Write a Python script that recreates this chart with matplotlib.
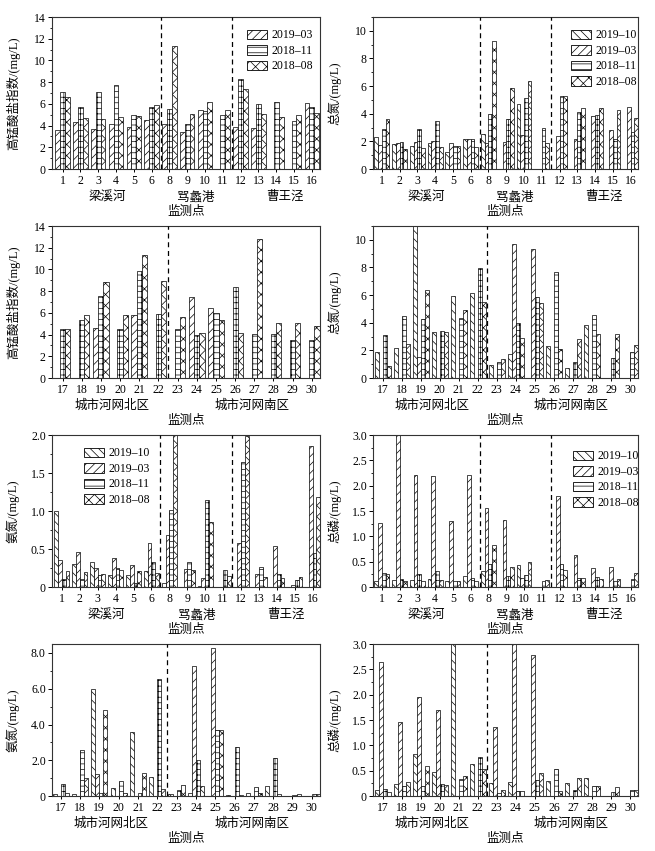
import numpy as np
import matplotlib
matplotlib.use('Agg')
import matplotlib.pyplot as plt
from matplotlib.patches import Patch
from matplotlib.ticker import MultipleLocator, FuncFormatter
from matplotlib.transforms import blended_transform_factory

plt.rcParams['font.family'] = ['Liberation Serif', 'Noto Sans CJK SC']
plt.rcParams['font.size'] = 8
plt.rcParams['hatch.linewidth'] = 0.5
plt.rcParams['axes.unicode_minus'] = False

nan = np.nan

# 监测点
sites_top = ['1', '2', '3', '4', '5', '6', '8', '9', '10', '11', '12', '13', '14', '15', '16']
sites_bot = [str(i) for i in range(17, 31)]
groups_top = ['梁溪河', '骂蠡港', '曹王泾']
groups_top_x = [2.5, 7.5, 12.5]
groups_bot = ['城市河网北区', '城市河网南区']
groups_bot_x = [2.6, 9.9]

labels = ['2019–10', '2019–03', '2018–11', '2018–08']
hatches = ['\\\\\\\\', '////', '+++', 'xxx']

# 高锰酸盐指数 (mg/L), 上: 1-16, 下: 17-30
codmn_top_1903 = [3.6, 4.3, 3.7, 4.1, 3.85, 4.5, 4.1, 3.45, 5.4, nan, 3.9, 3.75, nan, nan, 6.05]
codmn_top_1811 = [7.05, 5.75, 7.1, 7.7, 5.0, 5.75, 5.5, 4.1, 5.35, 5.0, 8.25, 6.0, 6.15, 4.45, 5.75]
codmn_top_1808 = [6.65, 4.7, 4.6, 4.8, 4.85, 5.9, 11.35, 5.05, 6.2, 5.4, 7.35, 5.1, 4.75, 5.0, 5.15]

codmn_bot_1903 = [nan, nan, 4.65, nan, 5.85, nan, nan, 7.5, 6.48, nan, nan, nan, nan, nan]
codmn_bot_1811 = [4.48, 5.3, 7.6, 4.55, 9.9, 5.93, 4.55, 4.0, 6.0, 8.4, 4.08, 4.08, 3.53, 3.47]
codmn_bot_1808 = [4.55, 5.85, 8.8, 5.85, 11.3, 8.95, 5.6, 4.17, 5.37, 4.17, 12.83, 5.07, 5.1, 4.8]

# 总氮
tn_top_1910 = [2.35, 1.8, 1.65, 1.85, 1.25, 2.17, 2.5, nan, 4.72, nan, nan, nan, nan, nan, nan]
tn_top_1903 = [1.75, 1.9, 1.93, 2.0, 1.85, 2.2, 1.9, 1.95, 2.45, nan, 2.4, 2.2, 3.85, 2.82, 4.5]
tn_top_1811 = [2.9, 1.97, 2.87, 3.45, 1.65, 2.15, 3.95, 3.6, 5.15, 3.0, 5.25, 4.15, 3.88, 2.15, 2.7]
tn_top_1808 = [3.6, 1.42, 1.5, 1.57, 1.63, 1.6, 9.23, 5.85, 6.35, 1.85, 5.3, 4.42, 4.45, 4.27, 3.7]

tn_bot_1910 = [1.9, 2.2, 11.5, 3.35, 5.95, 6.17, 0.92, 1.76, nan, 2.3, 0.72, 3.85, nan, nan]
tn_bot_1903 = [nan, nan, 1.5, nan, nan, nan, nan, 9.71, 9.35, nan, nan, nan, nan, nan]
tn_bot_1811 = [3.1, 4.5, 4.24, 3.42, 4.35, 7.98, 1.16, 4.0, 5.87, 7.7, 1.16, 4.58, 1.45, 1.9]
tn_bot_1808 = [0.87, 2.48, 6.38, 3.3, 4.94, 5.5, 1.35, 2.89, 5.45, 2.1, 2.8, 3.2, 3.15, 2.4]

# 氨氮
nh_top_1910 = [1.0, 0.30, 0.33, 0.155, 0.155, 0.21, 0.05, nan, 0.013, nan, nan, nan, nan, nan, nan]
nh_top_1903 = [0.36, 0.46, 0.25, 0.38, 0.29, 0.58, 0.69, 0.24, 0.12, nan, 0.575, 0.175, 0.54, 0.02, 1.86]
nh_top_1811 = [0.10, 0.10, 0.155, 0.25, 0.05, 0.33, 1.02, 0.33, 1.14, 0.23, 1.64, 0.26, 0.17, 0.09, 0.45]
nh_top_1808 = [0.21, 0.20, 0.17, 0.22, 0.215, 0.185, 2.1, 0.225, 0.86, 0.14, 1.99, 0.13, 0.12, 0.13, 1.18]

nh_bot_1910 = [0.1, 0.13, 5.97, 0.43, 3.58, 1.05, 0.1, 0.15, nan, 0.07, 0.17, 0.58, nan, nan]
nh_bot_1903 = [nan, nan, 1.25, nan, nan, nan, nan, 7.25, 8.3, nan, nan, nan, nan, nan]
nh_bot_1811 = [0.65, 2.57, 0.15, 0.85, 0.15, 6.55, 0.33, 2.0, 3.7, 2.72, 0.52, 2.12, 0.05, 0.1]
nh_bot_1808 = [0.15, 1.0, 4.82, 0.15, 1.28, 0.37, 0.6, 0.55, 3.72, 0.08, 0.15, 0.1, 0.12, 0.13]

# 总磷
tp_top_1910 = [0.12, 0.14, 0.14, 0.15, 0.11, 0.21, 0.32, nan, 0.44, nan, nan, nan, nan, nan, nan]
tp_top_1903 = [1.27, 3.1, 2.21, 2.2, 1.3, 2.21, 1.56, 1.33, 0.17, nan, 1.79, 0.63, 0.37, 0.40, nan]
tp_top_1811 = [0.27, 0.16, 0.26, 0.31, 0.12, 0.18, 0.45, 0.22, 0.23, 0.12, 0.46, 0.17, 0.19, 0.11, 0.16]
tp_top_1808 = [0.26, 0.11, 0.12, 0.14, 0.12, 0.12, 0.83, 0.39, 0.49, 0.13, 0.34, 0.17, 0.16, 0.16, 0.28]

tp_bot_1910 = [0.12, 0.23, 0.83, 0.47, 3.1, 0.64, 0.25, 0.27, nan, 0.29, 0.25, 0.35, nan, nan]
tp_bot_1903 = [2.65, 1.46, 1.95, 1.69, nan, nan, 1.36, 3.1, 2.78, nan, nan, nan, nan, nan]
tp_bot_1811 = [0.13, 0.2, 0.2, 0.23, 0.34, 0.78, 0.06, 0.09, 0.31, 0.54, 0.11, 0.19, 0.07, 0.11]
tp_bot_1808 = [0.07, 0.27, 0.59, 0.21, 0.39, 0.53, 0.11, 0.09, 0.45, 0.09, 0.35, 0.19, 0.18, 0.11]


def fmt1(v, pos):
    return '0' if abs(v) < 1e-9 else '%.1f' % v


def panel(ax, sites, series, hs, width, ylim, major, ylabel, xlim, vlines,
          groups, groups_x, fmt=None, legend=None, leg_labels=None):
    x = np.arange(len(sites))
    n = len(series)
    for i, (vals, h) in enumerate(zip(series, hs)):
        off = (i - (n - 1) / 2) * width
        ax.bar(x + off, vals, width, color='white', edgecolor='black',
               linewidth=0.5, hatch=h, zorder=2)
    for v in vlines:
        ax.axvline(v, color='black', ls=(0, (4, 3)), lw=0.9, zorder=3)
    ax.set_xlim(*xlim)
    ax.set_ylim(0, ylim)
    ax.set_xticks(x)
    ax.set_xticklabels(sites, fontsize=8.5)
    ax.yaxis.set_major_locator(MultipleLocator(major))
    ax.yaxis.set_minor_locator(MultipleLocator(major / 2))
    if fmt is not None:
        ax.yaxis.set_major_formatter(FuncFormatter(fmt))
    ax.tick_params(axis='y', direction='out', length=3, width=0.7, labelsize=8.5, pad=1.5)
    ax.tick_params(axis='y', which='minor', direction='out', length=1.8, width=0.6)
    ax.tick_params(axis='x', direction='out', length=2.5, width=0.7, pad=2)
    for s in ax.spines.values():
        s.set_linewidth(0.8)
        s.set_color('#333333')
    ax.set_ylabel(ylabel, fontsize=9)
    ax.yaxis.set_label_coords(-0.12, 0.5)
    tr = blended_transform_factory(ax.transData, ax.transAxes)
    for g, gx in zip(groups, groups_x):
        ax.text(gx, -0.185, g, transform=tr, ha='center', va='center', fontsize=9)
    ax.text(0.5, -0.28, '监测点', transform=ax.transAxes, ha='center', va='center', fontsize=9)
    if legend is not None:
        handles = [Patch(facecolor='white', edgecolor='black', linewidth=0.6,
                         hatch=(h if h != '+++' else '---')) for h in hs]
        ax.legend(handles, leg_labels, loc='upper left', bbox_to_anchor=legend,
                  frameon=False, fontsize=8.5, handlelength=1.7, handleheight=0.85,
                  handletextpad=0.4, labelspacing=0.3, borderaxespad=0)


fig = plt.figure(figsize=(6.55, 8.51), dpi=100)
L = [0.0794, 0.5695]
W = [0.409, 0.4046]
B = [0.8014, 0.5558, 0.3102, 0.0646]
H = 0.1786

ax1 = fig.add_axes([L[0], B[0], W[0], H])
panel(ax1, sites_top, [codmn_top_1903, codmn_top_1811, codmn_top_1808], hatches[1:], 0.27,
      14, 2, '高锰酸盐指数/(mg/L)', (-0.6, 14.45), [5.5, 9.5], groups_top, groups_top_x,
      legend=(0.71, 0.95), leg_labels=labels[1:])

ax2 = fig.add_axes([L[1], B[0], W[1], H])
panel(ax2, sites_top, [tn_top_1910, tn_top_1903, tn_top_1811, tn_top_1808], hatches, 0.21,
      11, 2, '总氮/(mg/L)', (-0.5, 14.42), [5.5, 9.5], groups_top, groups_top_x,
      legend=(0.73, 0.95), leg_labels=labels)

ax3 = fig.add_axes([L[0], B[1], W[0], H])
panel(ax3, sites_bot, [codmn_bot_1903, codmn_bot_1811, codmn_bot_1808], hatches[1:], 0.27,
      14, 2, '高锰酸盐指数/(mg/L)', (-0.55, 13.42), [5.5], groups_bot, groups_bot_x)

ax4 = fig.add_axes([L[1], B[1], W[1], H])
panel(ax4, sites_bot, [tn_bot_1910, tn_bot_1903, tn_bot_1811, tn_bot_1808], hatches, 0.21,
      11, 2, '总氮/(mg/L)', (-0.5, 13.42), [5.5], groups_bot, groups_bot_x)

ax5 = fig.add_axes([L[0], B[2], W[0], H])
panel(ax5, sites_top, [nh_top_1910, nh_top_1903, nh_top_1811, nh_top_1808], hatches, 0.21,
      2.0, 0.5, '氨氮/(mg/L)', (-0.55, 14.4), [5.5, 9.5], groups_top, groups_top_x,
      fmt=fmt1, legend=(0.10, 0.95), leg_labels=labels)

ax6 = fig.add_axes([L[1], B[2], W[1], H])
panel(ax6, sites_top, [tp_top_1910, tp_top_1903, tp_top_1811, tp_top_1808], hatches, 0.21,
      3.0, 0.5, '总磷/(mg/L)', (-0.5, 14.42), [5.5, 9.5], groups_top, groups_top_x,
      fmt=fmt1, legend=(0.735, 0.93), leg_labels=labels)

ax7 = fig.add_axes([L[0], B[3], W[0], H])
panel(ax7, sites_bot, [nh_bot_1910, nh_bot_1903, nh_bot_1811, nh_bot_1808], hatches, 0.21,
      8.5, 2, '氨氮/(mg/L)', (-0.45, 13.42), [5.5], groups_bot, groups_bot_x, fmt=fmt1)

ax8 = fig.add_axes([L[1], B[3], W[1], H])
panel(ax8, sites_bot, [tp_bot_1910, tp_bot_1903, tp_bot_1811, tp_bot_1808], hatches, 0.21,
      3.0, 0.5, '总磷/(mg/L)', (-0.5, 13.42), [5.5], groups_bot, groups_bot_x, fmt=fmt1)

fig.savefig('out.png', dpi=100, facecolor='white')
